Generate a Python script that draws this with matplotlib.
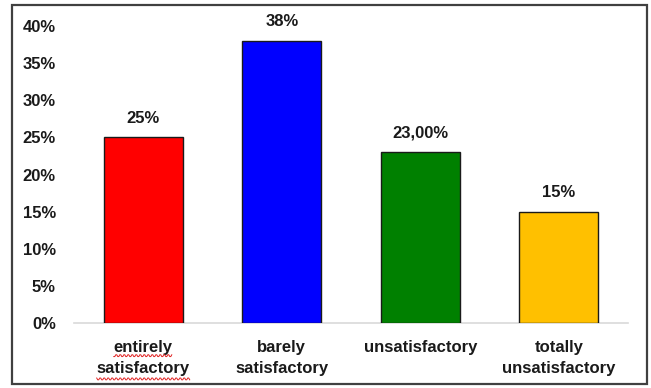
import matplotlib
matplotlib.use("Agg")
import numpy as np
import matplotlib.pyplot as plt
from matplotlib.patches import Rectangle
from matplotlib.lines import Line2D
from matplotlib.transforms import IdentityTransform
from matplotlib.ticker import FuncFormatter, MultipleLocator

plt.rcParams['font.family'] = ['Liberation Sans', 'DejaVu Sans']
plt.rcParams['font.weight'] = 'bold'

categories = ["entirely\nsatisfactory", "barely\nsatisfactory", "unsatisfactory", "totally\nunsatisfactory"]
values = [25, 38, 23, 15]
value_labels = ["25%", "38%", "23,00%", "15%"]
colors = ["#FF0000", "#0000FF", "#008000", "#FFC000"]

FS = 12
TXT = "#1a1a1a"

fig = plt.figure(figsize=(6.51, 3.88), dpi=100)
ax = fig.add_axes([0.1137, 0.1675, 0.851, 0.7655])

x = range(len(categories))
bars = ax.bar(x, values, width=0.57, color=colors, edgecolor="#1a1a1a", linewidth=1.0, zorder=3)

for bar, lab in zip(bars, value_labels):
    ax.annotate(lab, (bar.get_x() + bar.get_width() / 2, bar.get_height()),
                xytext=(0, 10.5), textcoords="offset points",
                ha="center", va="baseline", fontsize=FS, fontweight="bold", color=TXT)

ax.set_xlim(-0.5, len(categories) - 0.5)
ax.set_ylim(0, 40)
ax.yaxis.set_major_locator(MultipleLocator(5))
ax.yaxis.set_major_formatter(FuncFormatter(lambda v, _: f"{v:.0f}%"))
ax.set_xticks(list(x))
ax.set_xticklabels(categories, fontsize=FS, fontweight="bold", color=TXT, linespacing=1.55)
for lab in ax.get_yticklabels():
    lab.set_fontsize(FS)
    lab.set_fontweight("bold")
    lab.set_color(TXT)

ax.tick_params(axis="both", length=0)
ax.tick_params(axis="x", pad=12)
ax.tick_params(axis="y", pad=13)
for side in ("top", "right", "left"):
    ax.spines[side].set_visible(False)
ax.spines["bottom"].set_color("#d9d9d9")
ax.spines["bottom"].set_linewidth(1.2)

# outer frame around the whole chart
fig.patches.append(Rectangle((12 / 651, 4 / 388), 635 / 651, 379 / 388,
                             transform=fig.transFigure, fill=False,
                             edgecolor="#404040", linewidth=1.6))

# red squiggle under each word of the first category label (spell-check style)
fig.canvas.draw()
renderer = fig.canvas.get_renderer()
first = ax.get_xticklabels()[0]
bb = first.get_window_extent(renderer)
lines = first.get_text().split("\n")
cx = (bb.x0 + bb.x1) / 2
probe = fig.text(0, 0, "lp", fontsize=FS, fontweight="bold")
_, lp_h, lp_d = renderer.get_text_width_height_descent("lp", probe.get_fontproperties(), ismath=False)
probe.remove()
step = lp_h * 1.55
for i, word in enumerate(lines):
    probe = fig.text(0, 0, word, fontsize=FS, fontweight="bold")
    w = probe.get_window_extent(renderer).width
    probe.remove()
    baseline = bb.y1 - (lp_h - lp_d) - i * step
    y0 = baseline - lp_d - 1.0
    xs = np.arange(cx - w / 2, cx + w / 2, 1.0)
    ys = y0 + 0.9 * np.sign(np.sin(xs * np.pi / 2.0 + 0.5))
    fig.add_artist(Line2D(xs, ys, transform=IdentityTransform(),
                          color="#e02020", linewidth=0.7))

fig.savefig("out.png", dpi=100)
